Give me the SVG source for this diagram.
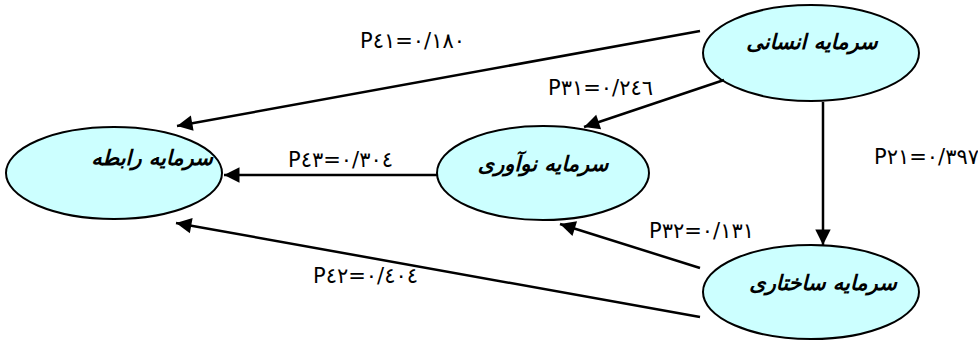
<svg xmlns="http://www.w3.org/2000/svg" width="978" height="341" viewBox="0 0 978 341">
<style>
.node ellipse{fill:#ccffff;stroke:#000;stroke-width:2}
.node text{font-family:"DejaVu Sans","Noto Sans",sans-serif;font-size:21px;font-weight:bold;font-style:italic;text-anchor:middle;fill:#000}
.edge line{stroke:#000;stroke-width:2.5;fill:none}
.lbl{font-family:"DejaVu Sans","Liberation Sans",sans-serif;font-size:21px;fill:#000;direction:ltr;unicode-bidi:bidi-override}
</style>
<defs>
<marker id="ah" viewBox="0 0 10 10" refX="10" refY="5" markerWidth="7" markerHeight="7" markerUnits="userSpaceOnUse" orient="auto" overflow="visible">
<path d="M0,0 L10,5 L0,10 z" fill="#000" transform="scale(2.2) translate(-5.5,-2.7)"/>
</marker>
</defs>
<g id="node-ensani" class="node"><ellipse cx="811" cy="53" rx="108" ry="48"/><text x="812" y="49" direction="rtl">سرمایه انسانی</text></g>
<g id="node-rabete" class="node"><ellipse cx="114" cy="173" rx="108" ry="46"/><text x="152" y="165" direction="rtl">سرمایه رابطه</text></g>
<g id="node-noavari" class="node"><ellipse cx="543" cy="173" rx="106" ry="47"/><text x="543" y="171" direction="rtl">سرمایه نوآوری</text></g>
<g id="node-sakhtari" class="node"><ellipse cx="811" cy="292" rx="108" ry="47"/><text x="823" y="290" direction="rtl">سرمایه ساختاری</text></g>
<g id="connectors" class="edge">
<line x1="700" y1="31" x2="177" y2="126" marker-end="url(#ah)"/>
<line x1="724" y1="80" x2="584" y2="127" marker-end="url(#ah)"/>
<line x1="437" y1="175" x2="224" y2="175" marker-end="url(#ah)"/>
<line x1="823" y1="102" x2="823" y2="245" marker-end="url(#ah)"/>
<line x1="700" y1="268" x2="560" y2="224" marker-end="url(#ah)"/>
<line x1="700" y1="317" x2="176" y2="223" marker-end="url(#ah)"/>
</g>
<g id="labels">
<text class="lbl" x="360" y="48">P٤١=٠/١٨٠</text>
<text class="lbl" x="548" y="95">P٣١=٠/٢٤٦</text>
<text class="lbl" x="288" y="167">P٤٣=٠/٣٠٤</text>
<text class="lbl" x="874" y="164">P٢١=٠/٣٩٧</text>
<text class="lbl" x="649" y="238">P٣٢=٠/١٣١</text>
<text class="lbl" x="313" y="283">P٤٢=٠/٤٠٤</text>
</g>
</svg>
